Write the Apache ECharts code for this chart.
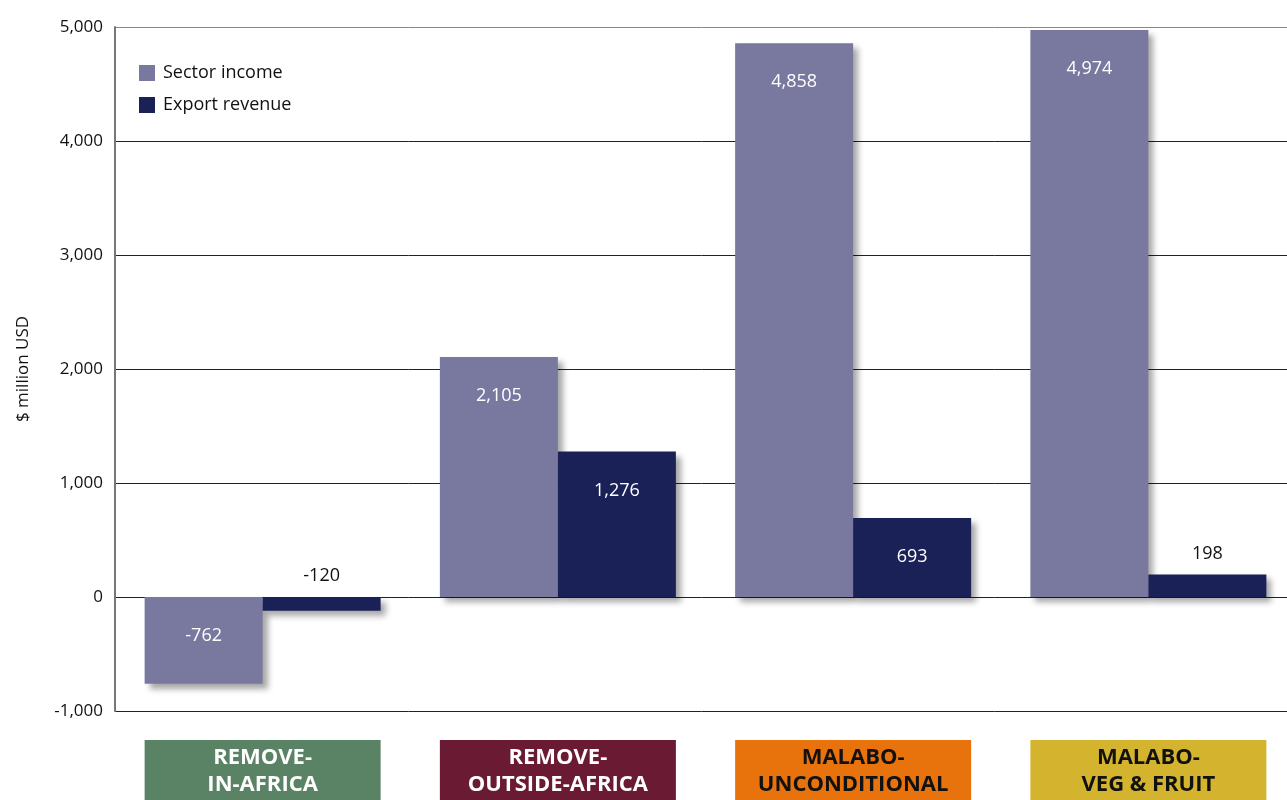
<!DOCTYPE html>
<html>
<head>
<meta charset="utf-8">
<script src="https://cdn.jsdelivr.net/npm/echarts@6/dist/echarts.min.js"></script>
<style>
html,body{margin:0;padding:0;background:#fff;}
#chart{width:1287px;height:800px;}
</style>
</head>
<body>
<div id="chart"></div>
<script>
const categories = ['REMOVE-\nIN-AFRICA', 'REMOVE-\nOUTSIDE-AFRICA', 'MALABO-\nUNCONDITIONAL', 'MALABO-\nVEG & FRUIT'];
const categoryBoxColors = ['#5a8264', '#6a1a33', '#e8730c', '#d4b42e'];
const categoryTextColors = ['#ffffff', '#ffffff', '#111111', '#111111'];
const sectorIncome = [-762, 2105, 4858, 4974];
const exportRevenue = [-120, 1276, 693, 198];
const yTicks = { min: -1000, max: 5000, interval: 1000 };

const FONT = '"Open Sans", "Noto Sans", sans-serif';
const fmt = v => (v < 0 ? '-' : '') + Math.abs(v).toString().replace(/\B(?=(\d{3})+(?!\d))/g, ',');

function barData(values) {
  return values.map(v => {
    const inside = Math.abs(v) >= 500;
    return {
      value: v,
      label: inside
        ? { show: true, position: 'insideTop', distance: 30, color: '#ffffff' }
        : { show: true, position: 'top', distance: 12, color: '#111111' }
    };
  });
}

const shadow = { shadowBlur: 6, shadowColor: 'rgba(0,0,0,0.35)', shadowOffsetX: 5, shadowOffsetY: 5 };

const chart = echarts.init(document.getElementById('chart'));
chart.setOption({
  animation: false,
  textStyle: { fontFamily: FONT },
  legend: {
    orient: 'vertical', left: 134, top: 59,
    itemWidth: 16, itemHeight: 16, itemGap: 14,
    icon: 'rect',
    textStyle: { fontSize: 18, color: '#111', fontFamily: FONT, padding: [0, 0, 0, 3] },
    data: ['Sector income', 'Export revenue']
  },
  grid: { left: 115, top: 27, width: 1181, height: 684, containLabel: false, outerBoundsMode: 'none' },
  xAxis: {
    type: 'category',
    data: categories.map((c, i) => ({
      value: c,
      textStyle: {
        backgroundColor: categoryBoxColors[i],
        color: categoryTextColors[i]
      }
    })),
    axisLine: { show: false },
    axisTick: { show: false },
    axisLabel: {
      interval: 0, margin: 29, fontSize: 22, fontWeight: 'bold', fontFamily: FONT,
      lineHeight: 27, width: 236, height: 70, padding: [4, 0, 0, 0], align: 'center',
      verticalAlign: 'top', overflow: 'none'
    }
  },
  yAxis: {
    type: 'value', min: yTicks.min, max: yTicks.max, interval: yTicks.interval,
    name: '$ million USD', nameLocation: 'middle', nameGap: 83, nameRotate: 90,
    nameTextStyle: { fontSize: 17, color: '#111', fontFamily: FONT },
    axisLine: { show: true, lineStyle: { color: '#777', width: 2 } },
    axisTick: { show: false },
    axisLabel: { fontSize: 17, color: '#111', margin: 12, formatter: fmt, fontFamily: FONT },
    splitLine: { lineStyle: { color: ['#222', '#222', '#222', '#222', '#222', '#222', '#888'], width: 1 } }
  },
  series: [
    {
      name: 'Sector income', type: 'bar', barWidth: 118, barGap: '0%',
      itemStyle: Object.assign({ color: '#79789f' }, shadow),
      label: { fontSize: 18, fontFamily: FONT, formatter: p => fmt(p.value) },
      data: barData(sectorIncome)
    },
    {
      name: 'Export revenue', type: 'bar', barWidth: 118, barGap: '0%',
      itemStyle: Object.assign({ color: '#1a2157' }, shadow),
      label: { fontSize: 18, fontFamily: FONT, formatter: p => fmt(p.value) },
      data: barData(exportRevenue)
    }
  ]
});
</script>
</body>
</html>
